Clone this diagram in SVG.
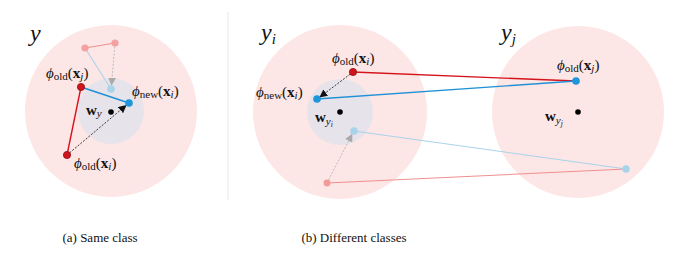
<svg xmlns="http://www.w3.org/2000/svg" width="680" height="256" viewBox="0 0 680 256">
<style>
.big{fill:#fde6e6}
.inner{fill:#e7e3eb}
text{font-family:'Liberation Serif','Times New Roman','DejaVu Serif',Times,serif}
.m{font-size:15px;fill:#111}
.it{font-style:italic}
.bf{font-weight:bold}
.sub{font-size:11px}
.cls{font-size:24px;font-style:italic;fill:#111}
.cls2{font-size:15px;font-style:italic}
.cap{font-size:13px;fill:#111}
.red{stroke:#d4141c;stroke-width:1.4;fill:none}
.blue{stroke:#2191d6;stroke-width:1.4;fill:none}
.lred{stroke:#f08f8f;stroke-width:1.1;fill:none}
.lblue{stroke:#a9d3ea;stroke-width:1.1;fill:none}
.dk{stroke:#222;stroke-width:0.9;stroke-dasharray:2 1.5;fill:none}
.gr{stroke:#b5b5b5;stroke-width:0.9;stroke-dasharray:2 1.5;fill:none}
</style>
<defs>
<marker id="ah" viewBox="0 0 10 10" refX="9" refY="5" markerWidth="8" markerHeight="8" markerUnits="userSpaceOnUse" orient="auto"><path d="M0,0L10,5L0,10z" fill="#111"/></marker>
<marker id="ahg" viewBox="0 0 10 10" refX="9" refY="5" markerWidth="8" markerHeight="8" markerUnits="userSpaceOnUse" orient="auto"><path d="M0,0L10,5L0,10z" fill="#aaa"/></marker>
</defs>
<rect width="680" height="256" fill="#fff"/>
<line x1="228" y1="12" x2="228" y2="200" stroke="#e8e8e8" stroke-width="1"/>

<g id="region-y">
<circle class="big" cx="111" cy="111" r="86"/>
<circle class="inner" cx="111" cy="111" r="33"/>
<text class="cls" x="30" y="41">y</text>
</g>
<g id="region-yi">
<circle class="big" cx="340" cy="112" r="87"/>
<circle class="inner" cx="340" cy="112" r="33"/>
<text class="cls" x="261" y="40">y<tspan class="cls2" dy="4">i</tspan></text>
</g>
<g id="region-yj">
<circle class="big" cx="578" cy="112" r="86"/>
<text class="cls" x="501" y="40">y<tspan class="cls2" dy="4">j</tspan></text>
</g>

<g id="connectors">
<line class="lred" x1="85" y1="48" x2="115" y2="43"/>
<line class="lblue" x1="85" y1="48" x2="111" y2="89"/>
<line class="gr" x1="115" y1="43" x2="111.5" y2="85" marker-end="url(#ahg)"/>
<line class="red" x1="81" y1="87" x2="67" y2="155"/>
<line class="blue" x1="81" y1="87" x2="129" y2="103"/>
<line class="dk" x1="67" y1="155" x2="126" y2="105.5" marker-end="url(#ah)"/>

<line class="red" x1="353" y1="72" x2="576" y2="81"/>
<line class="blue" x1="317" y1="99" x2="576" y2="81"/>
<line class="lblue" x1="354" y1="131" x2="626" y2="169"/>
<line class="lred" x1="327" y1="183" x2="626" y2="169"/>
<line class="dk" x1="353" y1="72" x2="320" y2="97" marker-end="url(#ah)"/>
<line class="gr" x1="327" y1="183" x2="352" y2="134.5" marker-end="url(#ahg)"/>
</g>

<g id="points-a">
<circle cx="85" cy="48" r="3.6" fill="#f4a1a1"/>
<circle cx="115" cy="43" r="3.6" fill="#f4a1a1"/>
<circle cx="111" cy="89" r="3.8" fill="#a9d3ea"/>
<circle cx="81" cy="87" r="3.6" fill="#d4141c" stroke="#8a0c12" stroke-width="0.8"/>
<circle cx="129" cy="103" r="3.8" fill="#1e96dc"/>
<circle cx="111" cy="112" r="2.8" fill="#000"/>
<circle cx="67" cy="155" r="3.6" fill="#d4141c" stroke="#8a0c12" stroke-width="0.8"/>
</g>
<g id="points-b">
<circle cx="353" cy="72" r="3.6" fill="#d4141c" stroke="#8a0c12" stroke-width="0.8"/>
<circle cx="317" cy="99" r="3.8" fill="#1e96dc"/>
<circle cx="340" cy="112" r="2.8" fill="#000"/>
<circle cx="354" cy="131" r="3.8" fill="#a9d3ea"/>
<circle cx="327" cy="183" r="3.4" fill="#f09a9a"/>
<circle cx="576" cy="81" r="3.8" fill="#1e96dc"/>
<circle cx="578" cy="112" r="2.8" fill="#000"/>
<circle cx="626" cy="169" r="3.8" fill="#a9d3ea"/>
</g>

<g id="labels-a">
<text class="m" x="46" y="78"><tspan class="it">ϕ</tspan><tspan class="sub" dy="2">old</tspan><tspan dy="-2">(</tspan><tspan class="bf">x</tspan><tspan class="sub it" dy="2">j</tspan><tspan dy="-2">)</tspan></text>
<text class="m" x="132" y="96"><tspan class="it">ϕ</tspan><tspan class="sub" dy="2">new</tspan><tspan dy="-2">(</tspan><tspan class="bf">x</tspan><tspan class="sub it" dy="2">i</tspan><tspan dy="-2">)</tspan></text>
<text class="m" x="86" y="115"><tspan class="bf">w</tspan><tspan class="sub it" dy="2">y</tspan></text>
<text class="m" x="74" y="168"><tspan class="it">ϕ</tspan><tspan class="sub" dy="2">old</tspan><tspan dy="-2">(</tspan><tspan class="bf">x</tspan><tspan class="sub it" dy="2">i</tspan><tspan dy="-2">)</tspan></text>
</g>
<g id="labels-b">
<text class="m" x="332" y="63"><tspan class="it">ϕ</tspan><tspan class="sub" dy="2">old</tspan><tspan dy="-2">(</tspan><tspan class="bf">x</tspan><tspan class="sub it" dy="2">i</tspan><tspan dy="-2">)</tspan></text>
<text class="m" x="256" y="97"><tspan class="it">ϕ</tspan><tspan class="sub" dy="2">new</tspan><tspan dy="-2">(</tspan><tspan class="bf">x</tspan><tspan class="sub it" dy="2">i</tspan><tspan dy="-2">)</tspan></text>
<text class="m" x="315" y="122"><tspan class="bf">w</tspan><tspan class="sub it" dy="3">y</tspan><tspan class="it" style="font-size:7.5px" dy="1.5">i</tspan></text>
<text class="m" x="557" y="70"><tspan class="it">ϕ</tspan><tspan class="sub" dy="2">old</tspan><tspan dy="-2">(</tspan><tspan class="bf">x</tspan><tspan class="sub it" dy="2">j</tspan><tspan dy="-2">)</tspan></text>
<text class="m" x="545" y="121"><tspan class="bf">w</tspan><tspan class="sub it" dy="3">y</tspan><tspan class="it" style="font-size:7.5px" dy="1.5">j</tspan></text>
</g>

<g id="captions">
<text class="cap" x="100" y="242" text-anchor="middle">(a) Same class</text>
<text class="cap" x="354" y="242" text-anchor="middle">(b) Different classes</text>
</g>
</svg>
